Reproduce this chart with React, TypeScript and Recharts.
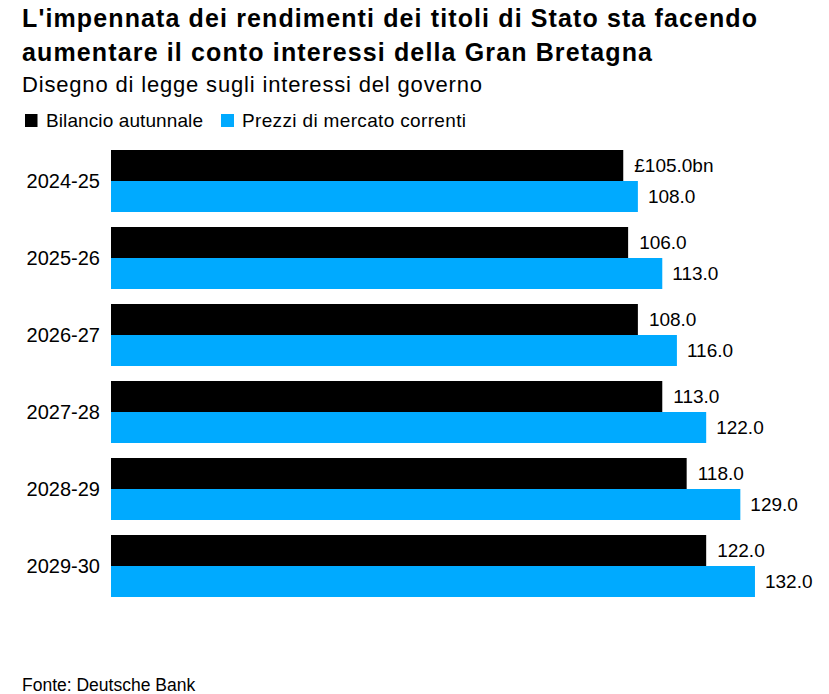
import React from "react";
import { BarChart, Bar, XAxis, YAxis, LabelList } from "recharts";

const categories = ["2024-25", "2025-26", "2026-27", "2027-28", "2028-29", "2029-30"];
const bilancioAutunnale = [105.0, 106.0, 108.0, 113.0, 118.0, 122.0];
const prezziMercato = [108.0, 113.0, 116.0, 122.0, 129.0, 132.0];

const seriesNames = ["Bilancio autunnale", "Prezzi di mercato correnti"];
const colors = ["#000000", "#00AAFF"];

const titleLines = [
  "L'impennata dei rendimenti dei titoli di Stato sta facendo",
  "aumentare il conto interessi della Gran Bretagna",
];
const subtitle = "Disegno di legge sugli interessi del governo";
const source = "Fonte: Deutsche Bank";

const data = categories.map((c, i) => ({
  cat: c,
  a: bilancioAutunnale[i],
  b: prezziMercato[i],
  aLabel: i === 0 ? `£${bilancioAutunnale[i].toFixed(1)}bn` : bilancioAutunnale[i].toFixed(1),
  bLabel: prezziMercato[i].toFixed(1),
}));

const FONT = "'Liberation Sans', Arial, sans-serif";

export default function App() {
  return (
    <div style={{ position: "absolute", left: 0, top: 0, width: 829, height: 694, background: "#fff", fontFamily: FONT }}>
      <BarChart
        width={829}
        height={694}
        data={data}
        layout="vertical"
        margin={{ top: 142.5, right: 35, bottom: 89.5, left: 0 }}
        barCategoryGap={7.5}
        barGap={0}
      >
        <XAxis type="number" domain={[0, 140]} hide />
        <YAxis
          type="category"
          dataKey="cat"
          width={111}
          axisLine={false}
          tickLine={false}
          tickSize={0}
          tickMargin={11}
          tick={{ fill: "#000", fontSize: 20, fontFamily: FONT }}
        />
        <Bar dataKey="a" fill={colors[0]} isAnimationActive={false}>
          <LabelList dataKey="aLabel" position="right" offset={11} fill="#000" fontSize={19} fontFamily={FONT} />
        </Bar>
        <Bar dataKey="b" fill={colors[1]} isAnimationActive={false}>
          <LabelList dataKey="bLabel" position="right" offset={10} fill="#000" fontSize={19} fontFamily={FONT} />
        </Bar>
      </BarChart>
      <svg
        width={829}
        height={694}
        style={{ position: "absolute", left: 0, top: 0, pointerEvents: "none" }}
        fontFamily={FONT}
      >
        <text x={22} y={27} fontSize={25} fontWeight="bold" fill="#000" textLength={735} lengthAdjust="spacing">{titleLines[0]}</text>
        <text x={22} y={61} fontSize={25} fontWeight="bold" fill="#000" textLength={630} lengthAdjust="spacing">{titleLines[1]}</text>
        <text x={22} y={92} fontSize={22} fill="#000" textLength={460} lengthAdjust="spacing">{subtitle}</text>
        <rect x={25} y={114} width={12.5} height={13} fill={colors[0]} />
        <text x={46} y={127} fontSize={19} fill="#000" textLength={157} lengthAdjust="spacing">{seriesNames[0]}</text>
        <rect x={221} y={114} width={13} height={13} fill={colors[1]} />
        <text x={242} y={127} fontSize={19} fill="#000" textLength={224} lengthAdjust="spacing">{seriesNames[1]}</text>
        <text x={22} y={691} fontSize={17.5} fill="#000">{source}</text>
      </svg>
    </div>
  );
}
